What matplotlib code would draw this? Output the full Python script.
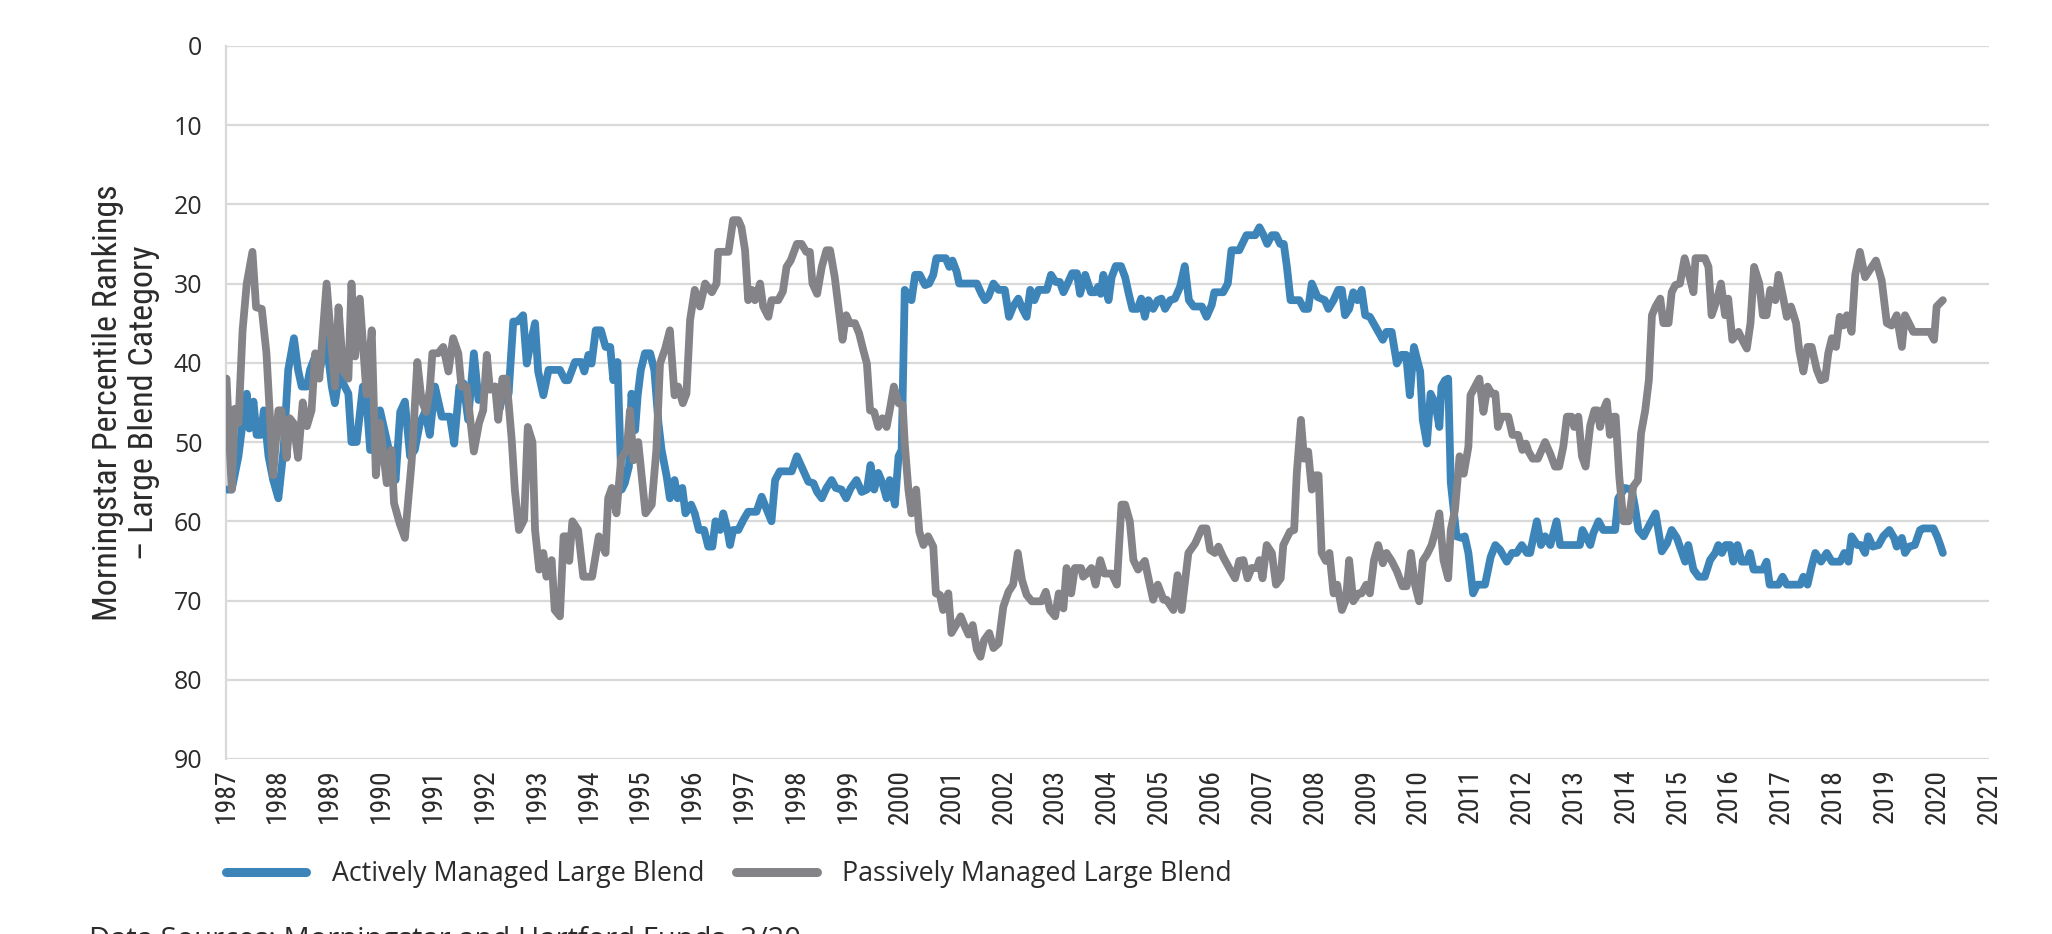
import matplotlib
matplotlib.use("Agg")
import matplotlib.pyplot as plt
from matplotlib import font_manager as fm
from matplotlib.font_manager import FontProperties

# ---------------- data ----------------
active_years = [
    1987.01, 1987.11, 1987.24, 1987.32, 1987.40, 1987.45, 1987.53, 1987.59, 1987.67, 1987.73,
    1987.82, 1987.91, 1988.01, 1988.11, 1988.20, 1988.31, 1988.39, 1988.46, 1988.56, 1988.62,
    1988.72, 1988.81, 1988.93, 1989.04, 1989.10, 1989.19, 1989.26, 1989.36, 1989.42, 1989.52,
    1989.64, 1989.71, 1989.78, 1989.91, 1989.97, 1990.07, 1990.17, 1990.27, 1990.36, 1990.45,
    1990.55, 1990.64, 1990.74, 1990.84, 1990.93, 1991.03, 1991.16, 1991.32, 1991.40, 1991.50,
    1991.58, 1991.67, 1991.78, 1991.87, 1991.99, 1992.09, 1992.19, 1992.28, 1992.38, 1992.45,
    1992.54, 1992.62, 1992.73, 1992.80, 1992.86, 1992.96, 1993.02, 1993.12, 1993.22, 1993.44,
    1993.54, 1993.60, 1993.73, 1993.85, 1993.91, 1993.99, 1994.05, 1994.13, 1994.23, 1994.32,
    1994.41, 1994.47, 1994.55, 1994.63, 1994.69, 1994.77, 1994.82, 1994.89, 1994.94, 1995.00,
    1995.08, 1995.18, 1995.26, 1995.34, 1995.40, 1995.50, 1995.56, 1995.65, 1995.71, 1995.80,
    1995.86, 1995.97, 1996.04, 1996.12, 1996.22, 1996.30, 1996.38, 1996.44, 1996.53, 1996.59,
    1996.67, 1996.72, 1996.78, 1996.88, 1996.98, 1997.07, 1997.23, 1997.33, 1997.39, 1997.52,
    1997.59, 1997.68, 1997.91, 1998.01, 1998.10, 1998.23, 1998.33, 1998.40, 1998.49, 1998.58,
    1998.68, 1998.76, 1998.87, 1998.96, 1999.05, 1999.16, 1999.26, 1999.36, 1999.43, 1999.50,
    1999.58, 1999.66, 1999.74, 1999.80, 1999.90, 1999.97, 2000.03, 2000.09, 2000.22, 2000.29,
    2000.38, 2000.48, 2000.56, 2000.64, 2000.70, 2000.88, 2000.95, 2001.01, 2001.09, 2001.14,
    2001.48, 2001.57, 2001.64, 2001.70, 2001.80, 2001.90, 2002.02, 2002.10, 2002.18, 2002.28,
    2002.36, 2002.44, 2002.51, 2002.59, 2002.67, 2002.83, 2002.91, 2003.00, 2003.08, 2003.15,
    2003.23, 2003.32, 2003.41, 2003.47, 2003.57, 2003.68, 2003.76, 2003.82, 2003.87, 2003.92,
    2004.02, 2004.08, 2004.16, 2004.26, 2004.34, 2004.41, 2004.48, 2004.58, 2004.65, 2004.72,
    2004.79, 2004.88, 2004.97, 2005.04, 2005.11, 2005.21, 2005.30, 2005.40, 2005.49, 2005.57,
    2005.66, 2005.82, 2005.91, 2006.01, 2006.06, 2006.23, 2006.32, 2006.39, 2006.54, 2006.68,
    2006.85, 2006.93, 2007.01, 2007.08, 2007.17, 2007.25, 2007.33, 2007.40, 2007.46, 2007.53,
    2007.70, 2007.79, 2007.87, 2007.94, 2008.05, 2008.19, 2008.26, 2008.36, 2008.45, 2008.52,
    2008.58, 2008.66, 2008.74, 2008.82, 2008.90, 2008.97, 2009.06, 2009.19, 2009.31, 2009.38,
    2009.48, 2009.58, 2009.67, 2009.76, 2009.83, 2009.91, 2010.03, 2010.08, 2010.16, 2010.23,
    2010.32, 2010.40, 2010.44, 2010.51, 2010.57, 2010.62, 2010.73, 2010.83, 2010.89, 2010.96,
    2011.05, 2011.13, 2011.28, 2011.39, 2011.48, 2011.57, 2011.70, 2011.80, 2011.89, 2011.99,
    2012.09, 2012.15, 2012.28, 2012.36, 2012.44, 2012.54, 2012.66, 2012.73, 2013.11, 2013.16,
    2013.31, 2013.37, 2013.47, 2013.56, 2013.79, 2013.85, 2013.98, 2014.11, 2014.17, 2014.24,
    2014.34, 2014.43, 2014.57, 2014.69, 2014.79, 2014.88, 2014.98, 2015.07, 2015.14, 2015.20,
    2015.30, 2015.40, 2015.52, 2015.62, 2015.72, 2015.78, 2015.85, 2015.92, 2016.01, 2016.07,
    2016.15, 2016.23, 2016.33, 2016.39, 2016.46, 2016.64, 2016.71, 2016.77, 2016.94, 2017.02,
    2017.10, 2017.36, 2017.42, 2017.50, 2017.58, 2017.65, 2017.76, 2017.87, 2017.97, 2018.13,
    2018.21, 2018.29, 2018.35, 2018.46, 2018.53, 2018.61, 2018.67, 2018.76, 2018.87, 2018.96,
    2019.08, 2019.17, 2019.22, 2019.32, 2019.38, 2019.46, 2019.57, 2019.67, 2019.73, 2019.93,
    2020.00, 2020.06, 2020.11,
]
active_rank = [
    56.0, 56.0, 51.8, 47.6, 43.9, 48.3, 44.9, 49.1, 49.1, 46.0,
    51.8, 54.8, 57.1, 51.0, 40.9, 36.9, 40.9, 43.0, 43.0, 40.9,
    39.2, 40.9, 36.9, 43.0, 45.1, 41.1, 42.6, 43.9, 50.0, 50.0,
    43.0, 44.7, 51.0, 51.0, 46.0, 48.9, 51.8, 54.8, 46.2, 44.9,
    51.8, 51.0, 47.6, 46.2, 49.1, 43.0, 46.8, 46.8, 50.2, 43.0,
    42.6, 47.2, 38.8, 44.7, 43.4, 43.2, 43.0, 45.8, 42.6, 43.9,
    34.8, 34.8, 34.0, 40.1, 38.0, 35.0, 41.1, 44.1, 40.9, 40.9,
    42.2, 42.2, 39.9, 39.9, 41.1, 39.0, 40.1, 35.9, 35.9, 38.0,
    38.0, 42.2, 39.9, 56.0, 55.2, 53.1, 43.9, 48.5, 44.1, 40.9,
    38.8, 38.8, 40.9, 47.6, 51.0, 54.4, 57.1, 54.8, 57.1, 55.8,
    59.0, 57.9, 59.0, 61.1, 61.1, 63.2, 63.2, 60.0, 61.1, 59.0,
    61.1, 63.0, 61.1, 61.1, 59.8, 58.8, 58.8, 56.9, 57.9, 60.0,
    54.8, 53.7, 53.7, 51.8, 53.1, 55.0, 55.2, 56.3, 57.1, 55.8,
    54.8, 55.8, 56.0, 57.1, 55.8, 54.8, 56.3, 56.0, 52.9, 56.0,
    53.9, 55.2, 57.1, 54.8, 57.9, 51.8, 51.0, 30.8, 32.1, 28.9,
    28.9, 30.2, 30.0, 28.9, 26.8, 26.8, 27.9, 27.1, 28.5, 30.0,
    30.0, 31.3, 32.1, 31.7, 30.0, 30.8, 30.8, 34.2, 32.9, 31.9,
    33.2, 34.2, 30.8, 32.1, 30.8, 30.8, 28.9, 29.8, 29.8, 31.1,
    30.0, 28.7, 28.7, 31.3, 28.9, 31.1, 31.1, 30.4, 31.3, 28.9,
    32.1, 29.2, 27.8, 27.8, 29.2, 31.3, 33.2, 33.2, 31.9, 34.2,
    32.1, 33.2, 32.1, 31.9, 33.2, 32.1, 31.9, 30.4, 27.8, 32.1,
    32.9, 32.9, 34.2, 32.7, 31.1, 31.1, 30.0, 25.8, 25.8, 23.9,
    23.9, 22.9, 23.9, 25.0, 23.9, 23.9, 25.0, 25.0, 27.9, 32.1,
    32.1, 33.2, 33.2, 30.0, 31.7, 32.1, 33.2, 32.1, 30.8, 30.8,
    34.0, 33.2, 31.1, 32.1, 30.8, 34.0, 34.2, 35.7, 37.1, 36.1,
    36.1, 40.1, 39.0, 39.0, 44.1, 38.0, 41.1, 47.2, 50.2, 43.9,
    45.1, 48.1, 43.0, 42.2, 42.0, 55.1, 61.9, 62.1, 61.9, 64.0,
    69.1, 68.0, 68.0, 64.5, 63.0, 63.6, 65.1, 64.0, 64.0, 63.0,
    64.0, 64.0, 60.0, 63.0, 61.9, 63.0, 60.0, 63.0, 63.0, 61.1,
    63.0, 61.5, 60.0, 61.1, 61.1, 57.1, 55.8, 56.0, 58.1, 61.1,
    61.9, 60.7, 59.0, 63.8, 62.8, 61.1, 62.1, 63.8, 65.1, 63.0,
    66.1, 67.0, 67.0, 64.9, 64.0, 63.0, 64.0, 63.0, 63.0, 65.1,
    63.0, 65.1, 65.1, 64.0, 66.1, 66.1, 65.1, 68.0, 68.0, 67.0,
    68.0, 68.0, 67.0, 68.0, 65.7, 64.0, 65.1, 64.0, 65.1, 65.1,
    64.0, 65.1, 61.9, 63.0, 63.0, 64.0, 61.9, 63.2, 63.0, 61.9,
    61.1, 62.1, 63.2, 62.1, 64.0, 63.2, 63.0, 61.1, 60.9, 60.9,
    61.9, 63.0, 64.0,
]

passive_years = [
    1987.01, 1987.11, 1987.17, 1987.24, 1987.32, 1987.40, 1987.51, 1987.58, 1987.69, 1987.78,
    1987.91, 1988.01, 1988.07, 1988.17, 1988.23, 1988.30, 1988.39, 1988.48, 1988.56, 1988.65,
    1988.72, 1988.80, 1988.94, 1989.10, 1989.17, 1989.26, 1989.36, 1989.42, 1989.49, 1989.58,
    1989.71, 1989.81, 1989.89, 1989.97, 1990.10, 1990.19, 1990.24, 1990.35, 1990.45, 1990.58,
    1990.69, 1990.77, 1990.86, 1990.93, 1990.98, 1991.09, 1991.19, 1991.29, 1991.38, 1991.48,
    1991.54, 1991.64, 1991.78, 1991.88, 1991.96, 1992.03, 1992.09, 1992.19, 1992.25, 1992.33,
    1992.41, 1992.51, 1992.57, 1992.65, 1992.75, 1992.82, 1992.91, 1992.96, 1993.04, 1993.12,
    1993.18, 1993.28, 1993.34, 1993.44, 1993.51, 1993.57, 1993.62, 1993.68, 1993.79, 1993.89,
    1994.06, 1994.19, 1994.32, 1994.37, 1994.44, 1994.53, 1994.62, 1994.73, 1994.79, 1994.86,
    1994.95, 1995.09, 1995.21, 1995.30, 1995.37, 1995.47, 1995.56, 1995.65, 1995.72, 1995.81,
    1995.88, 1995.95, 1996.04, 1996.14, 1996.24, 1996.37, 1996.46, 1996.49, 1996.69, 1996.78,
    1996.88, 1996.94, 1997.01, 1997.07, 1997.14, 1997.20, 1997.30, 1997.36, 1997.46, 1997.52,
    1997.65, 1997.74, 1997.81, 1997.89, 1998.01, 1998.10, 1998.19, 1998.26, 1998.31, 1998.40,
    1998.49, 1998.58, 1998.65, 1998.74, 1998.81, 1998.89, 1998.96, 1999.03, 1999.13, 1999.21,
    1999.29, 1999.36, 1999.42, 1999.50, 1999.58, 1999.66, 1999.74, 1999.80, 1999.88, 1999.97,
    2000.05, 2000.09, 2000.16, 2000.22, 2000.31, 2000.37, 2000.45, 2000.54, 2000.64, 2000.69,
    2000.77, 2000.83, 2000.93, 2000.99, 2001.08, 2001.17, 2001.25, 2001.32, 2001.40, 2001.48,
    2001.55, 2001.62, 2001.72, 2001.80, 2001.90, 2001.99, 2002.09, 2002.18, 2002.27, 2002.35,
    2002.44, 2002.54, 2002.73, 2002.81, 2002.89, 2002.99, 2003.06, 2003.15, 2003.21, 2003.30,
    2003.37, 2003.49, 2003.53, 2003.60, 2003.69, 2003.77, 2003.86, 2003.94, 2004.08, 2004.18,
    2004.27, 2004.34, 2004.43, 2004.50, 2004.59, 2004.72, 2004.79, 2004.88, 2004.97, 2005.08,
    2005.14, 2005.27, 2005.35, 2005.43, 2005.56, 2005.69, 2005.82, 2005.91, 2005.98, 2006.07,
    2006.14, 2006.23, 2006.33, 2006.46, 2006.54, 2006.62, 2006.70, 2006.78, 2006.88, 2006.93,
    2006.99, 2007.07, 2007.17, 2007.25, 2007.34, 2007.39, 2007.52, 2007.60, 2007.65, 2007.73,
    2007.79, 2007.87, 2007.94, 2008.00, 2008.07, 2008.13, 2008.21, 2008.28, 2008.36, 2008.43,
    2008.52, 2008.60, 2008.66, 2008.74, 2008.84, 2008.90, 2008.99, 2009.06, 2009.14, 2009.22,
    2009.31, 2009.38, 2009.48, 2009.58, 2009.69, 2009.77, 2009.85, 2009.93, 2010.01, 2010.08,
    2010.16, 2010.25, 2010.33, 2010.40, 2010.48, 2010.57, 2010.62, 2010.70, 2010.79, 2010.87,
    2010.96, 2011.00, 2011.09, 2011.17, 2011.25, 2011.33, 2011.41, 2011.48, 2011.53, 2011.60,
    2011.73, 2011.81, 2011.92, 2012.00, 2012.07, 2012.12, 2012.20, 2012.30, 2012.44, 2012.54,
    2012.63, 2012.71, 2012.79, 2012.86, 2012.95, 2013.00, 2013.08, 2013.15, 2013.22, 2013.31,
    2013.39, 2013.45, 2013.50, 2013.56, 2013.63, 2013.69, 2013.76, 2013.80, 2013.87, 2013.95,
    2014.05, 2014.14, 2014.23, 2014.29, 2014.37, 2014.44, 2014.50, 2014.57, 2014.66, 2014.72,
    2014.82, 2014.88, 2014.95, 2015.04, 2015.13, 2015.20, 2015.30, 2015.34, 2015.52, 2015.59,
    2015.65, 2015.75, 2015.83, 2015.91, 2015.97, 2016.05, 2016.17, 2016.24, 2016.33, 2016.40,
    2016.47, 2016.57, 2016.64, 2016.71, 2016.78, 2016.88, 2016.94, 2017.04, 2017.10, 2017.18,
    2017.28, 2017.34, 2017.42, 2017.50, 2017.58, 2017.68, 2017.76, 2017.84, 2017.90, 2017.97,
    2018.05, 2018.12, 2018.19, 2018.26, 2018.35, 2018.42, 2018.51, 2018.61, 2018.71, 2018.82,
    2018.93, 2019.03, 2019.12, 2019.22, 2019.32, 2019.38, 2019.48, 2019.54, 2019.86, 2019.94,
    2019.99, 2020.11,
]
passive_rank = [
    42.0, 56.0, 45.8, 47.6, 35.9, 30.0, 26.0, 33.0, 33.2, 38.8,
    54.2, 46.0, 46.0, 52.0, 47.0, 47.6, 52.0, 45.0, 48.0, 46.0,
    38.8, 42.0, 30.0, 43.0, 33.0, 41.0, 42.0, 30.0, 39.2, 31.9,
    44.0, 35.9, 54.2, 47.6, 55.2, 51.0, 57.7, 60.3, 62.1, 52.5,
    39.9, 44.7, 46.2, 43.4, 38.8, 38.8, 38.0, 41.1, 36.9, 38.8,
    43.0, 43.0, 51.2, 47.6, 46.0, 39.0, 43.4, 43.0, 47.2, 42.0,
    42.0, 49.7, 56.0, 61.1, 59.8, 48.1, 50.0, 61.1, 66.1, 64.0,
    67.0, 64.9, 71.2, 72.0, 61.9, 61.9, 65.0, 60.0, 61.1, 67.0,
    67.0, 61.9, 64.0, 57.1, 55.8, 59.0, 52.1, 51.0, 46.0, 52.3,
    50.0, 59.0, 57.9, 51.0, 40.1, 38.2, 35.9, 44.1, 43.0, 45.1,
    43.9, 34.6, 30.8, 32.9, 30.0, 31.1, 30.0, 26.0, 26.0, 22.0,
    22.0, 22.9, 25.8, 32.1, 30.8, 32.1, 30.0, 32.9, 34.2, 32.1,
    32.1, 31.0, 27.9, 27.1, 25.0, 25.0, 26.0, 26.0, 30.0, 31.3,
    27.9, 25.8, 25.8, 29.2, 32.9, 37.1, 34.0, 35.0, 35.0, 36.3,
    38.4, 40.1, 46.0, 46.2, 48.1, 47.0, 48.1, 46.0, 43.0, 45.1,
    45.3, 50.2, 56.0, 59.0, 56.0, 61.3, 63.0, 61.9, 63.2, 69.1,
    69.3, 71.2, 69.1, 74.1, 73.1, 72.0, 73.3, 74.3, 73.1, 76.2,
    77.1, 75.0, 74.1, 76.0, 75.4, 70.8, 68.9, 68.0, 64.0, 67.4,
    69.3, 70.1, 70.1, 68.9, 71.2, 72.0, 69.1, 71.0, 65.9, 69.1,
    65.9, 65.9, 67.0, 66.6, 65.9, 68.0, 64.9, 66.6, 66.6, 68.0,
    57.9, 57.9, 60.0, 64.9, 66.1, 65.0, 67.2, 69.9, 68.0, 69.9,
    69.9, 71.2, 66.8, 71.2, 64.0, 62.8, 60.9, 60.9, 63.6, 64.0,
    63.2, 64.5, 65.7, 67.2, 65.0, 64.9, 67.2, 65.9, 65.9, 64.9,
    67.2, 63.0, 64.0, 68.0, 67.2, 63.0, 61.3, 61.1, 54.0, 47.2,
    52.1, 51.2, 56.0, 54.2, 54.2, 64.0, 65.0, 64.0, 69.1, 68.0,
    71.2, 69.9, 64.9, 70.1, 69.1, 69.1, 68.0, 69.1, 64.9, 63.0,
    65.3, 64.0, 65.0, 66.3, 68.2, 68.2, 64.0, 68.0, 70.1, 65.0,
    64.2, 63.0, 61.1, 59.0, 64.9, 67.2, 61.1, 58.6, 51.8, 54.0,
    50.6, 44.1, 43.0, 42.0, 46.2, 43.0, 43.9, 43.9, 48.1, 46.8,
    46.8, 49.1, 49.1, 51.0, 50.2, 51.2, 52.1, 52.1, 50.0, 51.5,
    53.1, 53.1, 50.6, 46.8, 46.8, 48.1, 46.8, 51.8, 53.1, 47.9,
    46.0, 46.0, 48.1, 46.0, 44.9, 49.1, 46.8, 46.8, 54.4, 60.0,
    60.0, 55.6, 54.8, 48.9, 46.0, 42.2, 34.0, 32.9, 31.9, 35.0,
    35.0, 31.1, 30.2, 30.0, 26.8, 28.5, 31.1, 26.8, 26.8, 27.9,
    34.0, 32.1, 30.0, 34.0, 31.9, 37.1, 36.1, 37.1, 38.2, 35.0,
    27.9, 30.0, 34.0, 34.0, 30.8, 32.1, 28.9, 32.1, 34.2, 32.9,
    35.0, 38.4, 41.1, 38.0, 38.0, 40.9, 42.2, 42.0, 38.8, 36.9,
    38.0, 34.2, 35.3, 34.0, 36.1, 28.9, 26.0, 29.2, 28.2, 27.1,
    29.6, 35.0, 35.3, 34.0, 38.0, 34.0, 35.3, 36.1, 36.1, 37.1,
    32.9, 32.1,
]

year_ticks = list(range(1987, 2022))
y_ticks = list(range(0, 100, 10))
series_labels = ["Actively Managed Large Blend", "Passively Managed Large Blend"]
y_title = "Morningstar Percentile Rankings\n\u2013 Large Blend Category"
source_note = "Data Sources: Morningstar and Hartford Funds, 3/20"

# ---------------- fonts ----------------
def find_font(patterns):
    files = [f.fname for f in fm.fontManager.ttflist]
    for p in patterns:
        for fn in files:
            if p.lower() in fn.lower().replace(" ", ""):
                return fn
    return None

narrow_path = find_font(["LiberationSansNarrow-Regular", "RobotoCondensed-Regular",
                         "RobotoCondensed", "OpenSansCondensed", "DejaVuSansCondensed.ttf"])
if narrow_path:
    narrow_y = FontProperties(fname=narrow_path, size=24.5)
    narrow_x = FontProperties(fname=narrow_path, size=20)
else:
    narrow_y = FontProperties(family="DejaVu Sans", size=20)
    narrow_x = FontProperties(family="DejaVu Sans", size=15)

plt.rcParams["font.family"] = ["Open Sans", "DejaVu Sans"]

BLUE = "#3d85b9"
GRAY = "#848488"
GRID = "#d9d9d9"
TXT = "#2b2b2b"

W, H = 2052, 934
fig = plt.figure(figsize=(W / 100, H / 100), dpi=100)
ax = fig.add_axes([226 / W, 1 - 759 / H, (1989 - 226) / W, (759 - 45.8) / H])

LW = 5.6
ax.plot(active_years, active_rank, color=BLUE, lw=LW, solid_joinstyle="round",
        solid_capstyle="round", label=series_labels[0], zorder=3)
ax.plot(passive_years, passive_rank, color=GRAY, lw=LW, solid_joinstyle="round",
        solid_capstyle="round", label=series_labels[1], zorder=4)

ax.set_xlim(1987, 2021)
ax.set_ylim(90, 0)
ax.set_yticks(y_ticks)
ax.set_yticklabels([str(v) for v in y_ticks], fontsize=18, color=TXT)
ax.set_xticks(year_ticks)
ax.set_xticklabels([str(y) for y in year_ticks], rotation=90, fontproperties=narrow_x,
                   color=TXT, va="top", ha="center")
ax.tick_params(axis="both", length=0)
ax.tick_params(axis="y", pad=17)
ax.tick_params(axis="x", pad=7)

ax.grid(axis="y", color=GRID, lw=1.6, zorder=0)
ax.set_axisbelow(True)
for side in ["top", "right", "bottom"]:
    ax.spines[side].set_visible(False)
ax.spines["left"].set_color(GRID)
ax.spines["left"].set_linewidth(1.6)

# y-axis title (two centered lines)
fig.text(126 / W, 1 - ((759 + 45.8) / 2) / H, y_title, rotation=90, ha="center",
         va="center", fontproperties=narrow_y, color=TXT, multialignment="center",
         linespacing=1.12)

# legend
leg = fig.legend(loc="center left", bbox_to_anchor=(226 / W, 1 - 874 / H), ncol=2,
                 frameon=False, fontsize=19.3, handlelength=3.0, handletextpad=0.95,
                 columnspacing=1.2, borderaxespad=0, borderpad=0)
for t in leg.get_texts():
    t.set_color(TXT)
for l in leg.get_lines():
    l.set_linewidth(6.5)
    l.set_solid_capstyle("round")

# source note (partly cut by the bottom edge, as in the reference)
fig.text(89 / W, 1 - 926 / H, source_note, ha="left", va="top", fontsize=21, color=TXT)

fig.savefig("out.png", dpi=100)
